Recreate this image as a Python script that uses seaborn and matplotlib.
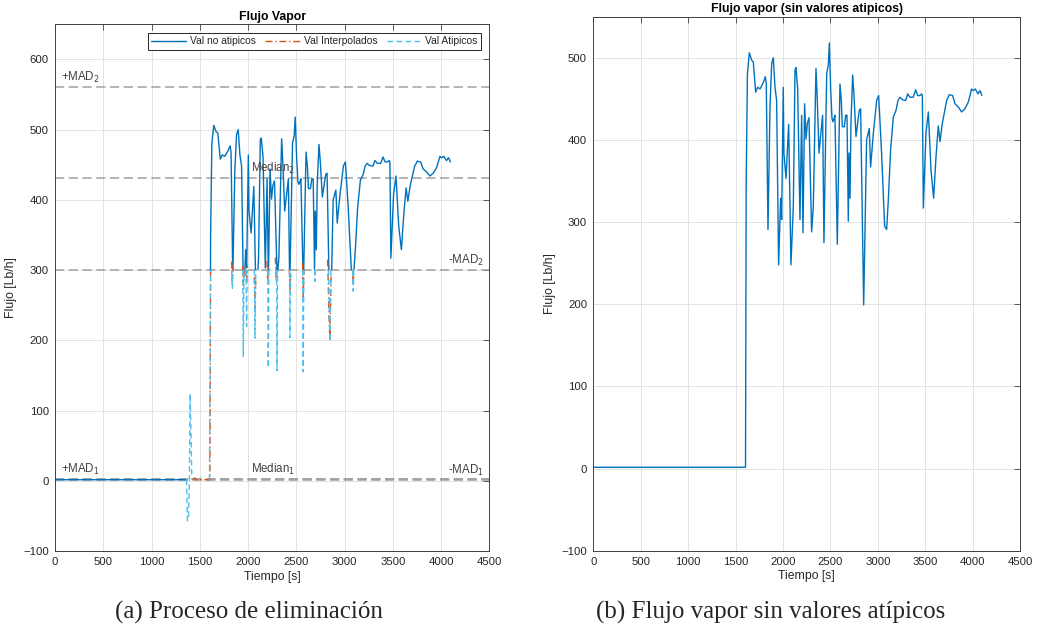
import numpy as np
import pandas as pd
import matplotlib
matplotlib.use("Agg")
import matplotlib.pyplot as plt
from matplotlib.lines import Line2D
from matplotlib.path import Path
from matplotlib.patches import PathPatch
import seaborn as sns

# ---------------- data ----------------
t_clean = [0, 200, 400, 600, 800, 1000, 1200, 1400, 1605, 1612, 1625, 1645, 1670, 1687,
           1712, 1733, 1758, 1793, 1814, 1824, 1842, 1863, 1881, 1898, 1916, 1933, 1954,
           1975, 1986, 2003, 2010, 2032, 2060, 2084, 2109, 2127, 2137, 2155, 2179, 2197,
           2211, 2228, 2243, 2257, 2274, 2302, 2320, 2348, 2362, 2380, 2418, 2432, 2461,
           2478, 2489, 2503, 2517, 2527, 2538, 2548, 2573, 2601, 2615, 2626, 2647, 2661,
           2675, 2689, 2696, 2707, 2717, 2735, 2749, 2770, 2787, 2805, 2819, 2851, 2882,
           2910, 2924, 2953, 2988, 3009, 3040, 3072, 3093, 3111, 3135, 3164, 3192, 3213,
           3234, 3258, 3294, 3315, 3339, 3374, 3399, 3420, 3445, 3462, 3470, 3480, 3508,
           3533, 3561, 3589, 3614, 3638, 3656, 3680, 3726, 3754, 3789, 3814, 3849, 3884,
           3919, 3954, 3989, 4007, 4028, 4056, 4077, 4098]
flujo_clean = [1.5, 1.5, 1.5, 1.5, 1.5, 1.5, 1.5, 1.5, 1.5, 348, 480, 506, 497, 495,
               458, 464, 462, 470, 477, 468, 291, 440, 493, 500, 464, 448, 248,
               329, 303, 464, 384, 353, 419, 248, 319, 485, 488, 462, 303, 430,
               287, 444, 401, 420, 427, 288, 319, 487, 448, 384, 430, 275, 481,
               491, 518, 462, 426, 422, 426, 430, 273, 468, 448, 416, 416, 430,
               430, 301, 384, 329, 422, 479, 454, 404, 420, 436, 438, 199, 400,
               414, 367, 408, 448, 454, 384, 295, 291, 327, 388, 428, 436, 448,
               452, 449, 448, 456, 452, 452, 461, 454, 454, 456, 454, 317, 408,
               434, 363, 329, 380, 417, 398, 420, 448, 455, 454, 444, 440, 434,
               438, 446, 462, 460, 462, 456, 460, 454]

# interpolated values (segments separated by NaN)
t_interp = [1418, 1450, 1460, 1605, 1612, np.nan,
            1830, 1837, 1843, np.nan,
            1945, 1952, 1960, 1972, 1985, 1992, np.nan,
            2065, 2072, 2080, np.nan,
            2196, 2203, 2210, np.nan,
            2283, 2292, 2300, np.nan,
            2428, 2435, 2442, np.nan,
            2565, 2572, 2580, np.nan,
            2825, 2840, 2848, 2860, np.nan,
            3085, 3090, 3096]
flujo_interp = [1.5, 4, 1.5, 1.5, 300, np.nan,
                312, 285, 305, np.nan,
                306, 278, 300, 305, 282, 300, np.nan,
                290, 245, 285, np.nan,
                313, 288, 305, np.nan,
                318, 285, 300, np.nan,
                300, 272, 295, np.nan,
                310, 262, 300, np.nan,
                315, 230, 200, 290, np.nan,
                292, 283, 290]

# atypical (outlier) values
t_atip = [1362, 1372, 1384, 1392, 1400, 1410, 1418, np.nan,
          1600, 1612, np.nan,
          1830, 1837, 1845, np.nan,
          1945, 1951, 1958, np.nan,
          1980, 1985, 1990, np.nan,
          2066, 2072, 2080, np.nan,
          2204, 2210, 2216, np.nan,
          2295, 2300, 2306, np.nan,
          2430, 2435, 2441, np.nan,
          2566, 2572, 2578, np.nan,
          2690, 2694, 2698, np.nan,
          2835, 2848, 2860, np.nan,
          3083, 3090, 3097]
flujo_atip = [1.5, -57, -52, 1.5, 124, 60, 1.5, np.nan,
              1.5, 300, np.nan,
              300, 274, 300, np.nan,
              300, 177, 300, np.nan,
              300, 220, 300, np.nan,
              300, 203, 300, np.nan,
              300, 161, 300, np.nan,
              300, 157, 300, np.nan,
              300, 204, 300, np.nan,
              300, 155, 300, np.nan,
              300, 284, 300, np.nan,
              300, 199, 300, np.nan,
              300, 270, 300]

# MAD / median levels
mad_levels = [560, 431, 300, 2.8, 1.9, 1.0]
mad_labels = ["+MAD$_2$", "Median$_2$", "-MAD$_2$", "+MAD$_1$", "Median$_1$", "-MAD$_1$"]

x_ticks = [0, 500, 1000, 1500, 2000, 2500, 3000, 3500, 4000, 4500]

legend_names = ["Val no atipicos", "Val Interpolados", "Val Atipicos"]
captions = ["(a) Proceso de eliminación", "(b) Flujo vapor sin valores atípicos"]

# ---------------- style ----------------
sns.set_theme(style="whitegrid")
plt.rcParams["font.family"] = ["Liberation Sans", "DejaVu Sans"]

C_BLUE = "#0072BD"
C_ORANGE = "#D95319"
C_LBLUE = "#4DBEEE"
C_AX = "#404040"
C_TXT = "#262626"


def segments_df(t, y):
    t = np.asarray(t, float)
    y = np.asarray(y, float)
    seg = np.cumsum(np.isnan(t))
    df = pd.DataFrame({"t": t, "y": y, "seg": seg}).dropna()
    return df


def style_axes(ax, ylim, yticks, title):
    ax.set_xlim(0, 4500)
    ax.set_ylim(*ylim)
    ax.set_xticks(x_ticks)
    ax.set_yticks(yticks)
    ax.grid(True, color="#e3e3e3", linewidth=0.7)
    ax.set_axisbelow(True)
    for s in ax.spines.values():
        s.set_color(C_AX)
        s.set_linewidth(0.7)
    ax.tick_params(direction="in", top=True, right=True, length=4, width=0.6,
                   colors=C_AX, labelcolor=C_TXT, labelsize=8.2, pad=4.5)
    ax.set_xlabel("Tiempo [s]", fontsize=8.8, color=C_TXT, labelpad=2.5)
    ax.set_ylabel("Flujo [Lb/h]", fontsize=8.8, color=C_TXT, labelpad=4)
    ax.set_title(title, fontsize=8.8, fontweight="bold", color="black", pad=3)


fig = plt.figure(figsize=(10.38, 6.31), dpi=100)
axL = fig.add_axes([0.053, 0.1268, 0.4184, 0.8347])
axR = fig.add_axes([0.5716, 0.1273, 0.4111, 0.8463])

# ---------------- left panel ----------------
df_clean = pd.DataFrame({"t": t_clean, "y": flujo_clean})
sns.lineplot(data=df_clean, x="t", y="y", ax=axL, color=C_BLUE, linewidth=1.0,
             estimator=None, sort=False, legend=False)
line_blue = axL.lines[-1]
clip = Path.make_compound_path(
    Path([(-50, -200), (1362, -200), (1362, 1000), (-50, 1000), (-50, -200)], closed=True),
    Path([(1600, 300), (5000, 300), (5000, 1000), (1600, 1000), (1600, 300)], closed=True),
)
patch = PathPatch(clip, transform=axL.transData, facecolor="none", edgecolor="none")
axL.add_patch(patch)
line_blue.set_clip_path(patch)

df_int = segments_df(t_interp, flujo_interp)
sns.lineplot(data=df_int, x="t", y="y", units="seg", ax=axL, color=C_ORANGE,
             linewidth=1.0, linestyle=(0, (5, 2, 1, 2)), estimator=None, sort=False,
             legend=False)
df_at = segments_df(t_atip, flujo_atip)
sns.lineplot(data=df_at, x="t", y="y", units="seg", ax=axL, color=C_LBLUE,
             linewidth=1.0, linestyle=(0, (4, 2.5)), estimator=None, sort=False,
             legend=False)

for lvl in mad_levels:
    axL.axhline(lvl, color="#a0a0a0", linewidth=1.1, linestyle=(0, (6, 3)), zorder=1.5)

lab_kw = dict(fontsize=8.3, color="#404040", va="bottom")
axL.text(60, mad_levels[0] + 3, mad_labels[0], ha="left", **lab_kw)
axL.text(2030, mad_levels[1] + 3, mad_labels[1], ha="left", **lab_kw)
axL.text(4445, mad_levels[2] + 3, mad_labels[2], ha="right", **lab_kw)
axL.text(60, mad_levels[3] + 3, mad_labels[3], ha="left", **lab_kw)
axL.text(2030, mad_levels[4] + 3, mad_labels[4], ha="left", **lab_kw)
axL.text(4445, mad_levels[5] + 3, mad_labels[5], ha="right", **lab_kw)

style_axes(axL, (-100, 650), list(range(-100, 601, 100)), "Flujo Vapor")

handles = [Line2D([], [], color=C_BLUE, lw=1.0),
           Line2D([], [], color=C_ORANGE, lw=1.0, linestyle=(0, (5, 2, 1, 2))),
           Line2D([], [], color=C_LBLUE, lw=1.0, linestyle=(0, (4, 2.5)))]
leg = axL.legend(handles, legend_names, loc="upper right", ncol=3, fontsize=7.4,
                 frameon=True, fancybox=False, edgecolor=C_TXT, framealpha=1,
                 borderpad=0.35, columnspacing=0.9, handlelength=3.4,
                 handletextpad=0.35, borderaxespad=0.8)
leg.get_frame().set_linewidth(0.7)

# ---------------- right panel ----------------
sns.lineplot(data=df_clean, x="t", y="y", ax=axR, color=C_BLUE, linewidth=1.0,
             estimator=None, sort=False, legend=False)
style_axes(axR, (-100, 550), list(range(-100, 501, 100)),
           "Flujo vapor (sin valores atipicos)")

# ---------------- captions ----------------
fig.text(0.240, 0.030, captions[0], ha="center", va="center", fontsize=18,
         family=["Liberation Serif", "DejaVu Serif"])
fig.text(0.742, 0.030, captions[1], ha="center", va="center", fontsize=18,
         family=["Liberation Serif", "DejaVu Serif"])

fig.savefig("out.png", dpi=100)
